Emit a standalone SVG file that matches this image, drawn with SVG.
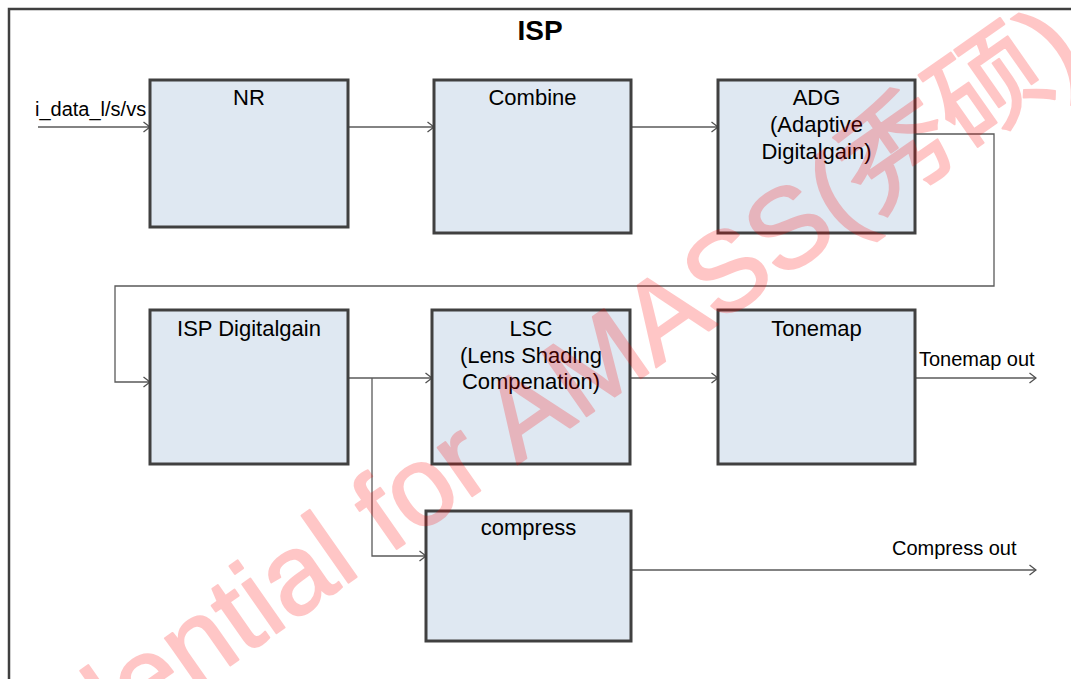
<svg xmlns="http://www.w3.org/2000/svg" width="1071" height="679" viewBox="0 0 1071 679">
  <defs>
    <marker id="arrow" markerUnits="userSpaceOnUse" markerWidth="9" markerHeight="12" viewBox="0 0 9 12" refX="8" refY="6" orient="auto">
      <path d="M1.5,1 L8,6 L1.5,11" fill="none" stroke="#505050" stroke-width="1.3"/>
    </marker>
  </defs>
  <style>
    .node rect { fill: #dfe8f2; stroke: #404040; stroke-width: 3; }
    .node text { font-family: "Liberation Sans", Arial, sans-serif; font-size: 22px; fill: #000; text-anchor: middle; }
    .conn { fill: none; stroke: #5a5a5a; stroke-width: 1.3; }
    .lbl { font-family: "Liberation Sans", Arial, sans-serif; font-size: 20px; fill: #000; }
    .wm { font-family: "Liberation Sans", "Noto Sans CJK SC", sans-serif; font-size: 113px; fill: #ff0000; stroke: #ff0000; stroke-width: 2; stroke-linejoin: round; }
  </style>
  <rect x="0" y="0" width="1071" height="679" fill="#ffffff"/>
  <g id="frame">
    <rect x="9" y="9" width="1100" height="720" fill="none" stroke="#404040" stroke-width="2.5"/>
    <text x="540" y="40" font-family="Liberation Sans, Arial, sans-serif" font-size="28" font-weight="bold" text-anchor="middle">ISP</text>
  </g>
  <g id="connectors">
    <path class="conn" d="M38,127 H150" marker-end="url(#arrow)"/>
    <path class="conn" d="M348,127 H434" marker-end="url(#arrow)"/>
    <path class="conn" d="M631,127 H718" marker-end="url(#arrow)"/>
    <path class="conn" d="M915,134 H994 V286 H115 V382 H150" marker-end="url(#arrow)"/>
    <path class="conn" d="M348,378 H432" marker-end="url(#arrow)"/>
    <path class="conn" d="M372,378 V556 H426" marker-end="url(#arrow)"/>
    <path class="conn" d="M630,378 H718" marker-end="url(#arrow)"/>
    <path class="conn" d="M915,378 H1036" marker-end="url(#arrow)"/>
    <path class="conn" d="M631,570 H1036" marker-end="url(#arrow)"/>
    <text class="lbl" x="35" y="116" font-size="18.5">i_data_l/s/vs</text>
    <text class="lbl" x="919" y="366">Tonemap out</text>
    <text class="lbl" x="892" y="555">Compress out</text>
  </g>
  <g id="node-nr" class="node">
    <rect x="150" y="80" width="198" height="147"/>
    <text x="249" y="105">NR</text>
  </g>
  <g id="node-combine" class="node">
    <rect x="434" y="80" width="197" height="153"/>
    <text x="532.5" y="105">Combine</text>
  </g>
  <g id="node-adg" class="node">
    <rect x="718" y="80" width="197" height="153"/>
    <text x="816.5" y="105">ADG</text>
    <text x="816.5" y="132">(Adaptive</text>
    <text x="816.5" y="158.5">Digitalgain)</text>
  </g>
  <g id="node-ispdg" class="node">
    <rect x="150" y="310" width="198" height="154"/>
    <text x="249" y="336">ISP Digitalgain</text>
  </g>
  <g id="node-lsc" class="node">
    <rect x="432" y="310" width="198" height="154"/>
    <text x="531" y="336">LSC</text>
    <text x="531" y="362.5">(Lens Shading</text>
    <text x="531" y="389">Compenation)</text>
  </g>
  <g id="node-tonemap" class="node">
    <rect x="718" y="310" width="197" height="154"/>
    <text x="816.5" y="336">Tonemap</text>
  </g>
  <g id="node-compress" class="node">
    <rect x="426" y="511" width="205" height="130"/>
    <text x="528.5" y="535">compress</text>
  </g>
  <g id="watermark" opacity="0.22">
    <text class="wm" transform="translate(-126,915) rotate(-35)">Confidential for AMASS(秀硕)</text>
  </g>
</svg>
